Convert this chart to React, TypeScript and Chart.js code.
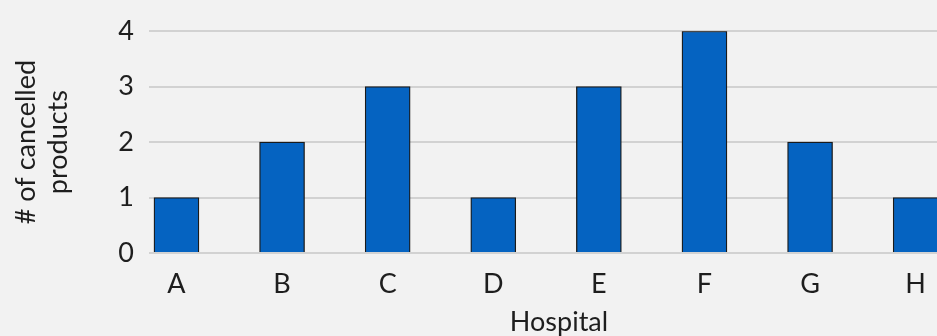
import React, { useEffect, useRef } from "react";
import { Chart, registerables } from "chart.js";

Chart.register(...registerables);

const categories = ["A", "B", "C", "D", "E", "F", "G", "H"];
const cancelled = [1, 2, 3, 1, 3, 4, 2, 1];
const yTicks = [0, 1, 2, 3, 4];
const yTitle = ["# of cancelled", "products"];
const xTitle = "Hospital";

const FONT = "Lato, 'Open Sans', sans-serif";
const TEXT = "#1e1e1e";

export default function App() {
  const ref = useRef<HTMLCanvasElement | null>(null);

  useEffect(() => {
    document.body.style.margin = "0";
    document.body.style.overflow = "hidden";
    document.body.style.background = "#F2F2F2";
    const canvas = ref.current;
    if (!canvas) return;
    const chart = new Chart(canvas, {
      type: "bar",
      data: {
        datasets: [
          {
            data: cancelled.map((v, i) => ({ x: i, y: v })),
            backgroundColor: "#0563C1",
            borderColor: "#1a1a1a",
            borderWidth: 1.3,
            barThickness: 45,
          },
        ],
      },
      options: {
        animation: false,
        responsive: false,
        devicePixelRatio: 1,
        layout: { padding: { top: 29, left: 0, right: 0, bottom: 0 } },
        plugins: { legend: { display: false }, tooltip: { enabled: false } },
        scales: {
          x: {
            type: "linear",
            min: -0.26,
            max: 7.505,
            offset: false,
            grid: { display: false, offset: false },
            border: { display: false },
            afterBuildTicks: (axis: any) => {
              axis.ticks = categories.map((_, i) => ({ value: i }));
            },
            afterFit: (axis: any) => {
              axis.height = 87;
            },
            ticks: {
              autoSkip: false,
              maxRotation: 0,
              padding: 7,
              color: TEXT,
              font: { family: FONT, size: 27 },
              callback: (v: any) => categories[Math.round(Number(v))] ?? "",
            },
            title: {
              display: true,
              text: xTitle,
              color: TEXT,
              font: { family: FONT, size: 27, lineHeight: 1.2 },
              padding: { top: 0, bottom: 2 },
            },
          },
          y: {
            min: 0,
            max: 4,
            afterBuildTicks: (axis: any) => {
              axis.ticks = yTicks.map((v) => ({ value: v }));
            },
            afterFit: (axis: any) => {
              axis.width = 149;
            },
            grid: { color: "#D2D2D2", lineWidth: 2, drawTicks: false },
            border: { display: false },
            ticks: {
              padding: 15,
              color: TEXT,
              font: { family: FONT, size: 27 },
            },
            title: {
              display: true,
              text: yTitle,
              color: TEXT,
              font: { family: FONT, size: 27, lineHeight: 1.2 },
              padding: { top: 10, bottom: 0 },
            },
          },
        },
      },
    });
    return () => chart.destroy();
  }, []);

  return (
    <div style={{ width: 937, height: 336, overflow: "hidden", background: "#F2F2F2", position: "relative" }}>
      <canvas ref={ref} width={969} height={340} style={{ display: "block" }} />
    </div>
  );
}
